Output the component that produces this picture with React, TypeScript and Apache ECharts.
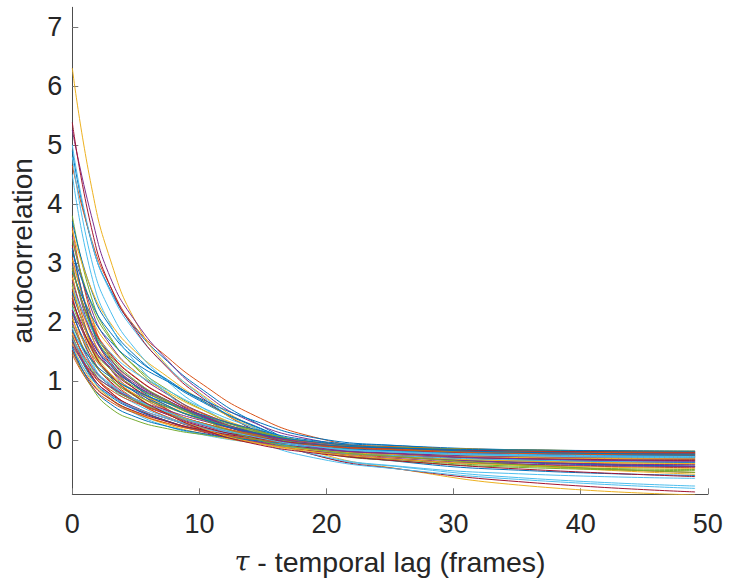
import React, { useEffect, useRef } from 'react';
import * as echarts from 'echarts';

// lag (frames) at which each curve value below is read
const lagFrames = [0, 1.5, 3, 5, 7.5, 10, 14, 19, 26, 36, 49];
const xTicks = [0, 10, 20, 30, 40, 50];
const yTicks = [0, 1, 2, 3, 4, 5, 6, 7];
const lineColors = ['#0072BD', '#D95319', '#EDB120', '#7E2F8E', '#77AC30', '#4DBEEE', '#A2142F'];

// one row per curve (plot order), values at lagFrames
const autocorrelation = [
  [4.9, 3.36, 2.54, 1.88, 1.33, 0.89, 0.34, -0.13, -0.37, -0.52, -0.6],
  [4.65, 3.4, 2.6, 1.9, 1.4, 0.98, 0.45, 0.05, -0.2, -0.42, -0.55],
  [6.3, 4.3, 3.05, 2.0, 1.25, 0.8, 0.25, -0.2, -0.5, -0.78, -0.93],
  [5.25, 3.8, 2.75, 2.0, 1.35, 0.85, 0.32, 0.0, -0.2, -0.36, -0.45],
  [3.8, 2.42, 1.74, 1.22, 0.79, 0.47, 0.12, -0.18, -0.34, -0.45, -0.5],
  [5.0, 3.38, 2.51, 1.82, 1.24, 0.78, 0.2, -0.25, -0.46, -0.65, -0.78],
  [5.38, 3.6, 2.6, 1.85, 1.22, 0.75, 0.2, -0.25, -0.5, -0.72, -0.88],
  [3.7, 2.54, 1.92, 1.42, 1.0, 0.67, 0.26, -0.1, -0.28, -0.39, -0.45],
  [3.6, 2.11, 1.39, 0.91, 0.52, 0.28, 0.02, -0.18, -0.3, -0.38, -0.42],
  [3.55, 2.56, 1.98, 1.49, 1.07, 0.7, 0.23, -0.13, -0.28, -0.44, -0.58],
  [3.45, 2.22, 1.61, 1.15, 0.77, 0.48, 0.18, -0.09, -0.24, -0.33, -0.38],
  [3.4, 2.3, 1.71, 1.24, 0.85, 0.54, 0.15, -0.19, -0.36, -0.47, -0.52],
  [4.8, 3.06, 2.18, 1.53, 0.99, 0.58, 0.14, -0.24, -0.45, -0.58, -0.65],
  [3.3, 1.95, 1.29, 0.85, 0.51, 0.29, 0.05, -0.13, -0.24, -0.31, -0.35],
  [3.2, 2.33, 1.82, 1.38, 1.02, 0.69, 0.27, -0.09, -0.27, -0.38, -0.44],
  [3.1, 2.01, 1.47, 1.06, 0.72, 0.47, 0.19, -0.04, -0.17, -0.26, -0.3],
  [3.05, 2.08, 1.57, 1.15, 0.81, 0.53, 0.19, -0.11, -0.26, -0.35, -0.4],
  [3.0, 1.79, 1.2, 0.8, 0.49, 0.29, 0.08, -0.08, -0.18, -0.25, -0.28],
  [2.95, 1.9, 1.38, 0.98, 0.65, 0.41, 0.15, -0.08, -0.21, -0.29, -0.33],
  [4.5, 2.8, 1.95, 1.31, 0.78, 0.4, 0.02, -0.3, -0.5, -0.68, -0.82],
  [2.9, 1.96, 1.45, 1.05, 0.71, 0.44, 0.1, -0.18, -0.33, -0.42, -0.47],
  [2.85, 2.11, 1.67, 1.3, 0.99, 0.71, 0.35, 0.04, -0.1, -0.2, -0.25],
  [2.8, 1.63, 1.06, 0.68, 0.38, 0.19, -0.01, -0.17, -0.27, -0.33, -0.36],
  [2.75, 1.77, 1.29, 0.92, 0.62, 0.39, 0.14, -0.07, -0.19, -0.26, -0.3],
  [2.7, 1.83, 1.36, 0.98, 0.67, 0.42, 0.11, -0.15, -0.29, -0.38, -0.42],
  [2.65, 1.59, 1.07, 0.73, 0.45, 0.28, 0.1, -0.05, -0.13, -0.19, -0.22],
  [2.6, 1.89, 1.48, 1.13, 0.84, 0.57, 0.23, -0.06, -0.2, -0.29, -0.34],
  [2.55, 1.65, 1.2, 0.86, 0.58, 0.36, 0.14, -0.06, -0.17, -0.24, -0.27],
  [2.5, 1.69, 1.26, 0.92, 0.63, 0.4, 0.11, -0.14, -0.26, -0.34, -0.38],
  [2.45, 1.45, 0.97, 0.65, 0.39, 0.23, 0.06, -0.08, -0.16, -0.21, -0.24],
  [2.4, 1.53, 1.1, 0.77, 0.5, 0.3, 0.08, -0.11, -0.21, -0.28, -0.31],
  [2.35, 1.68, 1.29, 0.95, 0.67, 0.42, 0.1, -0.18, -0.32, -0.41, -0.45],
  [2.3, 1.58, 1.2, 0.89, 0.64, 0.43, 0.18, -0.04, -0.15, -0.22, -0.26],
  [2.25, 1.34, 0.9, 0.61, 0.38, 0.23, 0.07, -0.05, -0.13, -0.18, -0.2],
  [2.2, 1.39, 0.99, 0.68, 0.43, 0.24, 0.04, -0.14, -0.24, -0.3, -0.33],
  [2.15, 1.47, 1.1, 0.81, 0.56, 0.37, 0.12, -0.08, -0.19, -0.26, -0.29],
  [2.1, 1.24, 0.82, 0.54, 0.32, 0.18, 0.03, -0.09, -0.16, -0.21, -0.23],
  [2.05, 1.46, 1.12, 0.83, 0.58, 0.36, 0.08, -0.17, -0.28, -0.36, -0.4],
  [2.0, 1.28, 0.92, 0.65, 0.43, 0.26, 0.08, -0.08, -0.17, -0.22, -0.25],
  [1.95, 1.35, 1.02, 0.76, 0.55, 0.37, 0.16, -0.03, -0.12, -0.18, -0.21],
  [1.9, 1.09, 0.7, 0.44, 0.23, 0.1, -0.04, -0.15, -0.21, -0.26, -0.28],
  [1.88, 1.17, 0.81, 0.54, 0.32, 0.15, -0.03, -0.18, -0.27, -0.32, -0.35],
  [1.85, 1.36, 1.07, 0.83, 0.62, 0.44, 0.2, -0.01, -0.1, -0.17, -0.2],
  [1.82, 1.24, 0.93, 0.68, 0.47, 0.3, 0.09, -0.08, -0.17, -0.23, -0.26],
  [1.8, 1.06, 0.71, 0.47, 0.28, 0.16, 0.03, -0.07, -0.13, -0.17, -0.19],
  [1.77, 1.1, 0.77, 0.52, 0.31, 0.16, -0.01, -0.15, -0.23, -0.29, -0.31],
  [1.75, 1.19, 0.89, 0.66, 0.46, 0.3, 0.1, -0.07, -0.16, -0.21, -0.24],
  [1.72, 1.22, 0.93, 0.68, 0.47, 0.28, 0.04, -0.17, -0.27, -0.34, -0.37],
  [1.7, 1.09, 0.78, 0.55, 0.36, 0.21, 0.06, -0.08, -0.15, -0.2, -0.22],
  [1.68, 1.06, 0.74, 0.51, 0.32, 0.17, 0.01, -0.12, -0.2, -0.25, -0.27],
  [1.65, 1.13, 0.85, 0.63, 0.45, 0.3, 0.11, -0.04, -0.12, -0.17, -0.2],
  [1.62, 1.0, 0.69, 0.46, 0.26, 0.12, -0.04, -0.17, -0.25, -0.3, -0.32],
  [1.6, 1.16, 0.9, 0.69, 0.5, 0.34, 0.13, -0.06, -0.14, -0.2, -0.23],
  [1.5, 0.9, 0.54, 0.33, 0.19, 0.1, 0.01, -0.08, -0.13, -0.17, -0.19],
  [1.55, 1.04, 0.76, 0.54, 0.36, 0.21, 0.03, -0.12, -0.2, -0.25, -0.28],
  [1.52, 0.97, 0.69, 0.48, 0.31, 0.18, 0.04, -0.08, -0.15, -0.19, -0.21],
  [1.58, 0.93, 0.61, 0.39, 0.23, 0.12, 0.0, -0.08, -0.14, -0.17, -0.19],
  [1.45, 0.92, 0.65, 0.45, 0.28, 0.16, 0.02, -0.09, -0.16, -0.2, -0.22],
  [2.6, 1.61, 1.12, 0.75, 0.44, 0.21, -0.03, -0.2, -0.33, -0.43, -0.48],
  [2.2, 1.59, 1.23, 0.92, 0.66, 0.43, 0.14, -0.12, -0.24, -0.32, -0.36],
  [2.9, 1.93, 1.42, 1.0, 0.66, 0.38, 0.04, -0.16, -0.29, -0.43, -0.55],
  [1.9, 1.28, 0.95, 0.69, 0.47, 0.29, 0.07, -0.11, -0.21, -0.27, -0.3],
  [2.4, 1.55, 1.1, 0.74, 0.44, 0.2, -0.05, -0.22, -0.36, -0.5, -0.62],
  [3.25, 1.96, 1.33, 0.91, 0.58, 0.37, 0.14, -0.03, -0.14, -0.21, -0.24],
];

const FONT = '"Liberation Sans", Arial, Helvetica, sans-serif';
const TEXT = '#262626';

export default function App() {
  const ref = useRef<HTMLDivElement>(null);

  useEffect(() => {
    if (!ref.current) return;
    const chart = echarts.init(ref.current, null, { renderer: 'svg' });

    const series = autocorrelation.map((row, i) => ({
      type: 'line',
      data: row.map((v, j) => [lagFrames[j], v]),
      showSymbol: false,
      smooth: 0.5,
      lineStyle: { width: 1, color: lineColors[i % lineColors.length] },
      emphasis: { disabled: true },
      silent: true,
    }));

    chart.setOption({
      animation: false,
      grid: { left: 72.3, right: 21.2, top: 7.3, bottom: 88.7, containLabel: false },
      xAxis: {
        type: 'value',
        min: xTicks[0],
        max: xTicks[xTicks.length - 1],
        interval: 10,
        axisLine: { show: true, onZero: false, lineStyle: { color: '#4d4d4d', width: 1 } },
        axisTick: { show: true, inside: true, length: 6, lineStyle: { color: '#777', width: 1 } },
        axisLabel: { fontSize: 27, color: TEXT, fontFamily: FONT, margin: 16 },
        splitLine: { show: false },
        name: '{t|τ} - temporal lag (frames)',
        nameLocation: 'middle',
        nameGap: 53,
        nameTextStyle: {
          fontSize: 28.5,
          color: TEXT,
          fontFamily: FONT,
          rich: {
            t: { fontSize: 27, fontStyle: 'italic', fontFamily: '"DejaVu Serif", "Liberation Serif", serif', color: TEXT },
          },
        },
      },
      yAxis: {
        type: 'value',
        min: -0.92,
        max: 7.33,
        axisLine: { show: true, lineStyle: { color: '#4d4d4d', width: 1 } },
        axisTick: { show: true, inside: true, length: 6, lineStyle: { color: '#777', width: 1 }, customValues: yTicks },
        axisLabel: { fontSize: 27, color: TEXT, fontFamily: FONT, margin: 10, customValues: yTicks },
        splitLine: { show: false },
        name: 'autocorrelation',
        nameLocation: 'middle',
        nameGap: 34,
        nameRotate: 90,
        nameTextStyle: { fontSize: 28, color: TEXT, fontFamily: FONT },
      },
      series,
    });

    return () => chart.dispose();
  }, []);

  return <div ref={ref} style={{ position: 'absolute', left: 0, top: 0, width: 729, height: 583 }} />;
}
